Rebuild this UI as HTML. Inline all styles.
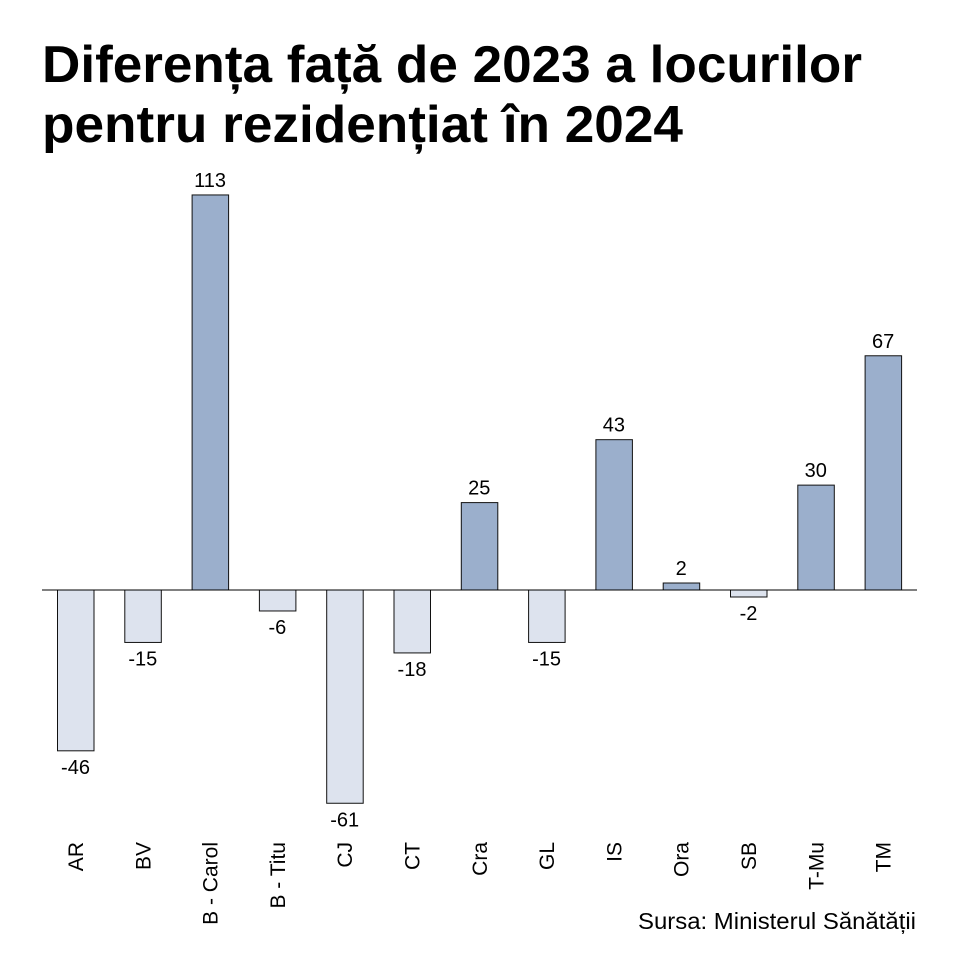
<!DOCTYPE html>
<html><head><meta charset="utf-8"><style>
body{margin:0;background:#fff;}
</style></head><body>
<svg width="960" height="960" xmlns="http://www.w3.org/2000/svg" font-family="Liberation Sans, Arial, sans-serif">
<rect width="960" height="960" fill="#fff"/>
<text x="42" y="82" font-size="52" font-weight="bold" fill="#000" textLength="820" lengthAdjust="spacingAndGlyphs">Diferența față de 2023 a locurilor</text>
<text x="42" y="142" font-size="52" font-weight="bold" fill="#000" textLength="641" lengthAdjust="spacingAndGlyphs">pentru rezidențiat în 2024</text>
<g id="bars" stroke="#111" stroke-width="1"></g>
<line x1="42" y1="590" x2="917" y2="590" stroke="#000" stroke-width="1"/>
<g id="vals" font-size="20" text-anchor="middle" fill="#000"></g>
<g id="cats" font-size="21" fill="#000"></g>
<text x="916" y="929" font-size="23" text-anchor="end" fill="#000" textLength="278" lengthAdjust="spacingAndGlyphs">Sursa: Ministerul Sănătății</text>
<script>
var d=[["AR",-46],["BV",-15],["B - Carol",113],["B - Titu",-6],["CJ",-61],["CT",-18],["Cra",25],["GL",-15],["IS",43],["Ora",2],["SB",-2],["T-Mu",30],["TM",67]];
var ns="http://www.w3.org/2000/svg",k=3.496,z=590;
var B=document.getElementById("bars"),V=document.getElementById("vals"),C=document.getElementById("cats");
d.forEach(function(e,i){
 var x=57+i*67.3,v=e[1],h=Math.abs(v)*k;
 var r=document.createElementNS(ns,"rect");
 r.setAttribute("x",x+0.5);r.setAttribute("width",36.5);
 r.setAttribute("y",v>=0?z-h:z);r.setAttribute("height",h);
 r.setAttribute("fill",v>=0?"#9bafcc":"#dde3ee");B.appendChild(r);
 var t=document.createElementNS(ns,"text");
 t.setAttribute("x",x+18.5);t.setAttribute("y",v>=0?z-h-8:z+h+23);
 t.textContent=v;V.appendChild(t);
 var c=document.createElementNS(ns,"text");
 c.setAttribute("transform","translate("+(x+26)+",842) rotate(-90)");
 c.setAttribute("text-anchor","end");c.textContent=e[0];C.appendChild(c);
});
</script>
</svg>
</body></html>
